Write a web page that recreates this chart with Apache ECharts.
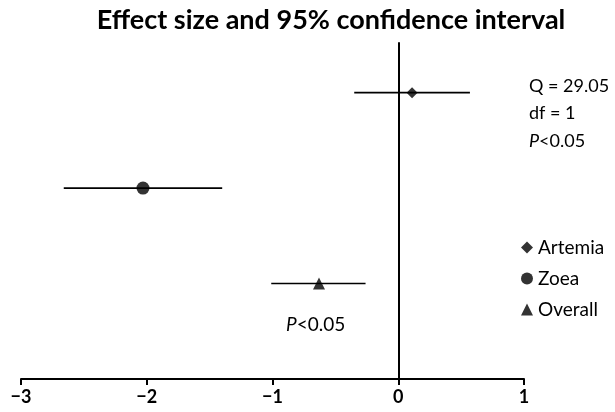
<!DOCTYPE html>
<html><head><meta charset="utf-8">
<script src="https://cdn.jsdelivr.net/npm/echarts@6/dist/echarts.min.js"></script>
<style>html,body{margin:0;padding:0;background:#fff}#c{width:615px;height:412px}</style>
</head><body><div id="c"></div>
<script>
const groups = ['Artemia', 'Zoea', 'Overall'];
const effect = [0.11, -2.03, -0.63];
const lower = [-0.35, -2.66, -1.01];
const upper = [0.57, -1.40, -0.26];
const rowPos = [3, 2, 1];
const symbols = ['diamond', 'circle', 'triangle'];
const symbolSizes = [11, 13, 12];
const xTicks = [-3, -2, -1, 0, 1];
const statsLines = ['Q = 29.05', 'df = 1', '{i|P}<0.05'];
const overallNote = '{i|P}<0.05';

const FONT = 'Lato';
const chart = echarts.init(document.getElementById('c'));

const errData = groups.map((g, i) => [lower[i], upper[i], rowPos[i]]);

const series = [{
  type: 'custom',
  name: 'ci',
  silent: true,
  data: errData,
  encode: { x: [0, 1], y: 2 },
  renderItem: function (params, api) {
    const a = api.coord([api.value(0), api.value(2)]);
    const b = api.coord([api.value(1), api.value(2)]);
    return { type: 'line', shape: { x1: a[0], y1: a[1], x2: b[0], y2: b[1] },
      style: { stroke: '#000', lineWidth: 1.6 } };
  },
  z: 2
}];
groups.forEach((g, i) => {
  series.push({
    type: 'scatter', name: g, symbol: symbols[i], symbolSize: symbolSizes[i],
    itemStyle: { color: '#000' }, data: [[effect[i], rowPos[i]]], z: 3
  });
});

chart.setOption({
  animation: false,
  title: { text: 'Effect size and 95% confidence interval', left: 326, textAlign: 'center', top: 2,
    textStyle: { fontFamily: FONT, fontWeight: 'bold', fontSize: 27, color: '#000' } },
  grid: { left: 21, right: 91, top: 43, bottom: 33 },
  xAxis: {
    type: 'value', min: -3, max: 1, interval: 1,
    axisLine: { onZero: false, lineStyle: { color: '#000', width: 2 } },
    axisTick: { show: true, length: 6, lineStyle: { color: '#000', width: 2 } },
    splitLine: { show: false },
    axisLabel: { margin: 9, fontFamily: FONT, fontWeight: 'bold', fontSize: 18, color: '#000',
      formatter: v => (xTicks.indexOf(v) < 0 ? '' : (v < 0 ? '\u2212' + Math.abs(v) : String(v))) }
  },
  yAxis: {
    type: 'value', min: 0, max: 3.52,
    axisLine: { show: true, onZero: true, lineStyle: { color: '#000', width: 2 } },
    axisTick: { show: false }, axisLabel: { show: false }, splitLine: { show: false }
  },
  legend: {
    orient: 'vertical', left: 516, top: 233, itemGap: 12, itemWidth: 12, itemHeight: 12,
    data: groups, selectedMode: false,
    textStyle: { fontFamily: FONT, fontSize: 19, color: '#000', padding: [0, 0, 0, 0] }
  },
  graphic: [
    ...statsLines.map((t, i) => ({
      type: 'text', left: 529, top: 77 + i * 27.5,
      style: { text: t, fontFamily: FONT, fontSize: 18, fill: '#000',
        rich: { i: { fontStyle: 'italic', fontFamily: FONT, fontSize: 18 } } }
    })),
    { type: 'text', left: 286, top: 315,
      style: { text: overallNote, fontFamily: FONT, fontSize: 19, fill: '#000',
        rich: { i: { fontStyle: 'italic', fontFamily: FONT, fontSize: 19 } } } }
  ],
  series: series
});
</script></body></html>
